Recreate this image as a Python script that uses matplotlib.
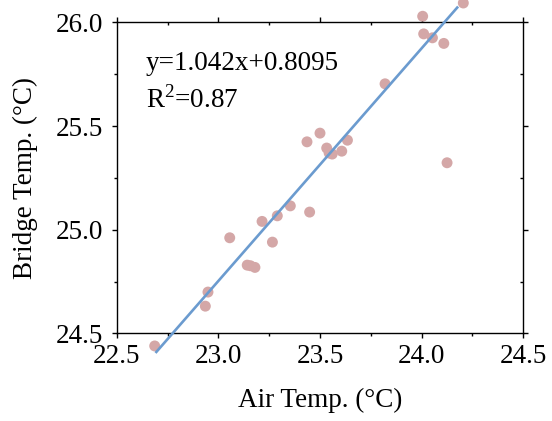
import matplotlib.pyplot as plt
from matplotlib.ticker import MultipleLocator

plt.rcParams['font.family'] = ['Liberation Serif', 'DejaVu Serif']
plt.rcParams['mathtext.fontset'] = 'custom'
plt.rcParams['mathtext.rm'] = 'Liberation Serif'

# scatter data
air_temp = [24.005, 24.01, 24.053, 24.109, 24.205, 23.82, 23.5, 23.436, 23.635,
            23.533, 23.545, 23.56, 23.607, 24.125, 23.354, 23.29, 23.449, 23.215,
            23.056, 23.266, 23.142, 23.158, 23.18, 22.949, 22.936, 22.687]
bridge_temp = [26.03, 25.945, 25.926, 25.899, 26.094, 25.704, 25.466, 25.424, 25.432,
               25.394, 25.37, 25.365, 25.379, 25.323, 25.115, 25.067, 25.085, 25.04,
               24.961, 24.94, 24.829, 24.826, 24.818, 24.699, 24.631, 24.439]

# fitted line end points
fit_x = [22.695, 24.175]
fit_y = [24.41, 26.072]

xticks = [22.5, 23.0, 23.5, 24.0, 24.5]
yticks = [24.5, 25.0, 25.5, 26.0]

fig = plt.figure(figsize=(5.52, 4.21), dpi=100)
ax = fig.add_axes([0.2114, 0.2083, 0.7366, 0.7383])

ax.scatter(air_temp, bridge_temp, s=62, color='#d4a7a7', edgecolors='none',
           clip_on=False, zorder=2)
ax.plot(fit_x, fit_y, color='#6b9bcf', lw=1.9, clip_on=False, zorder=3)

ax.set_xlim(22.5, 24.5)
ax.set_ylim(24.5, 26.0)
ax.set_xticks(xticks)
ax.set_xticklabels(['%.1f' % v for v in xticks])
ax.set_yticks(yticks)
ax.set_yticklabels(['%.1f' % v for v in yticks])
ax.xaxis.set_minor_locator(MultipleLocator(0.25))
ax.yaxis.set_minor_locator(MultipleLocator(0.25))

ax.tick_params(which='both', labelsize=19.5, width=1, direction='out',
               top=True, right=True)
ax.tick_params(which='major', length=3.6)
ax.tick_params(which='minor', length=2.4)
# top/right ticks point inward
for t in ax.xaxis.get_ticklines(minor=False)[1::2] + ax.xaxis.get_ticklines(minor=True)[1::2]:
    t.set_marker(3)
for t in ax.yaxis.get_ticklines(minor=False)[1::2] + ax.yaxis.get_ticklines(minor=True)[1::2]:
    t.set_marker(0)
ax.tick_params(axis='x', pad=4)
ax.tick_params(axis='y', pad=6)
for sp in ax.spines.values():
    sp.set_linewidth(1)

ax.set_xlabel('Air Temp. (°C)', fontsize=19.5, labelpad=14)
ax.set_ylabel('Bridge Temp. (°C)', fontsize=19.5, labelpad=13)

ax.text(0.072, 0.847, 'y=1.042x+0.8095', transform=ax.transAxes, fontsize=19.5,
        va='baseline')
ax.text(0.072, 0.727, r'R$^{\mathregular{2}}$=0.87', transform=ax.transAxes,
        fontsize=19.5, va='baseline')

fig.savefig('out.png', dpi=100)
